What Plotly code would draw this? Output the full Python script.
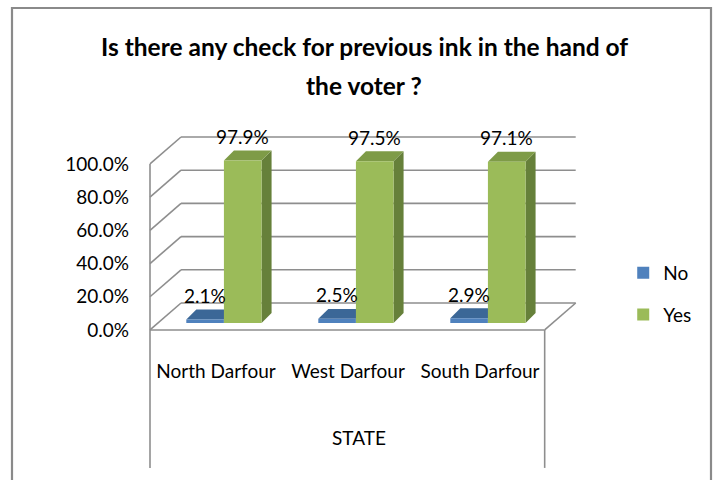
import plotly.graph_objects as go

# ---- data ----
states = ["North Darfour", "West Darfour", "South Darfour"]
no_pct = [2.1, 2.5, 2.9]
yes_pct = [97.9, 97.5, 97.1]
y_ticks = [0, 20, 40, 60, 80, 100]
y_tick_text = [f"{v:.1f}%" for v in y_ticks]
series_names = ["No", "Yes"]

# ---- styling / geometry (data units: x = category index, y = percent) ----
FONT = "Lato"
W, H = 718, 480
X_RANGE = [-1.6364, 3.8030]
Y_RANGE = [-94.58, 194.58]

BAR_W = 0.285
NO_OFF, YES_OFF = -0.225, 0.06
BAR_DX, BAR_DY = 0.076, 6.0          # bar depth (side / top faces)

FRONT_Y, BACK_Y = -4.2, 12.05        # floor front / back planes
FRONT_X0, FRONT_X1 = -0.5, 2.49
BACK_X0, BACK_X1 = -0.265, 2.725
BOX_BOTTOM = -87.3

GRID = dict(color="#8E8E8E", width=1.6)

blue = dict(front="#4F81BD", top="#3B6797", side="#385D8A")
green = dict(front="#9BBB59", top="#7E9B47", side="#66803A")

fig = go.Figure()

for name, vals, off, col in [(series_names[0], no_pct, NO_OFF, blue),
                             (series_names[1], yes_pct, YES_OFF, green)]:
    fig.add_trace(go.Bar(
        x=list(range(len(states))), y=vals, name=name,
        width=BAR_W, offset=off,
        marker=dict(color=col["front"], line=dict(width=0)),
        legendgroup=name, hoverinfo="skip",
    ))

shapes = []


def line(x0, y0, x1, y1):
    shapes.append(dict(type="line", xref="x", yref="y", x0=x0, y0=y0,
                       x1=x1, y1=y1, line=GRID, layer="below"))


# back wall gridlines and left wall diagonals
for v in y_ticks:
    line(BACK_X0, v + BACK_Y, BACK_X1, v + BACK_Y)
    line(BACK_X0, v + BACK_Y, FRONT_X0, v + FRONT_Y)
# floor front edge and right edge
line(FRONT_X0, FRONT_Y, FRONT_X1, FRONT_Y)
line(BACK_X1, BACK_Y, FRONT_X1, FRONT_Y)
# front vertical edge of the wall running down into the category box
line(FRONT_X0, y_ticks[-1] + FRONT_Y, FRONT_X0, BOX_BOTTOM)
line(FRONT_X1, FRONT_Y, FRONT_X1, BOX_BOTTOM)


def poly(pts, color):
    d = "M " + " L ".join(f"{x},{y}" for x, y in pts) + " Z"
    shapes.append(dict(type="path", xref="x", yref="y", path=d,
                       fillcolor=color, line=dict(width=0), layer="below"))


# 3D faces of each bar
for vals, off, col in [(no_pct, NO_OFF, blue), (yes_pct, YES_OFF, green)]:
    for i, v in enumerate(vals):
        xl = i + off
        xr = xl + BAR_W
        poly([(xr, 0), (xr + BAR_DX, BAR_DY), (xr + BAR_DX, v + BAR_DY), (xr, v)],
             col["side"])
        poly([(xl, v), (xl + BAR_DX, v + BAR_DY), (xr + BAR_DX, v + BAR_DY), (xr, v)],
             col["top"])

# outer chart border
shapes.append(dict(type="rect", xref="paper", yref="paper",
                   x0=12 / W, x1=711 / W, y0=-0.05, y1=1 - 8 / H,
                   line=dict(color="#8A8A8A", width=2.2), layer="above"))

annotations = []
# value labels
for vals, off in [(no_pct, NO_OFF), (yes_pct, YES_OFF)]:
    for i, v in enumerate(vals):
        annotations.append(dict(
            x=i + off + BAR_W / 2, y=v, xref="x", yref="y",
            text=f"{v:.1f}%", showarrow=False, yshift=24,
            font=dict(family=FONT, size=19, color="#000"),
        ))

# chart title (two lines)
for txt, ypx in [("Is there any check for previous ink in the hand of", 47),
                 ("the voter ?", 85)]:
    annotations.append(dict(
        x=364 / W, y=1 - ypx / H, xref="paper", yref="paper",
        text=f"<b>{txt}</b>", showarrow=False, xanchor="center", yanchor="middle",
        font=dict(family=FONT, size=24.5, color="#000"),
    ))

fig.update_layout(
    width=W, height=H,
    margin=dict(l=0, r=0, t=0, b=0),
    paper_bgcolor="white", plot_bgcolor="white",
    barmode="overlay",
    showlegend=True,
    legend=dict(x=0.868, y=1 - 254 / H, xanchor="left", yanchor="top",
                font=dict(family=FONT, size=19, color="#000"),
                tracegroupgap=14, bgcolor="rgba(0,0,0,0)"),
    xaxis=dict(range=X_RANGE, domain=[0, 1], anchor="free", position=1 - 358 / H,
               tickvals=list(range(len(states))), ticktext=states,
               ticks="", showgrid=False, zeroline=False, showline=False,
               tickfont=dict(family=FONT, size=19, color="#000"),
               title=dict(text="STATE", standoff=50,
                          font=dict(family=FONT, size=19, color="#000"))),
    yaxis=dict(range=Y_RANGE, domain=[0, 1], showgrid=False, zeroline=False,
               showticklabels=False, showline=False),
    yaxis2=dict(range=[Y_RANGE[0] - FRONT_Y, Y_RANGE[1] - FRONT_Y],
                overlaying="y", anchor="free", position=129 / W, side="left",
                tickvals=y_ticks, ticktext=y_tick_text,
                ticks="", showgrid=False, zeroline=False, showline=False,
                tickfont=dict(family=FONT, size=19, color="#000")),
    shapes=shapes,
    annotations=annotations,
    font=dict(family=FONT),
)

# invisible trace that binds the label axis
fig.add_trace(go.Scatter(x=[None], y=[None], yaxis="y2", showlegend=False,
                         hoverinfo="skip"))

fig.write_html("out.html")
